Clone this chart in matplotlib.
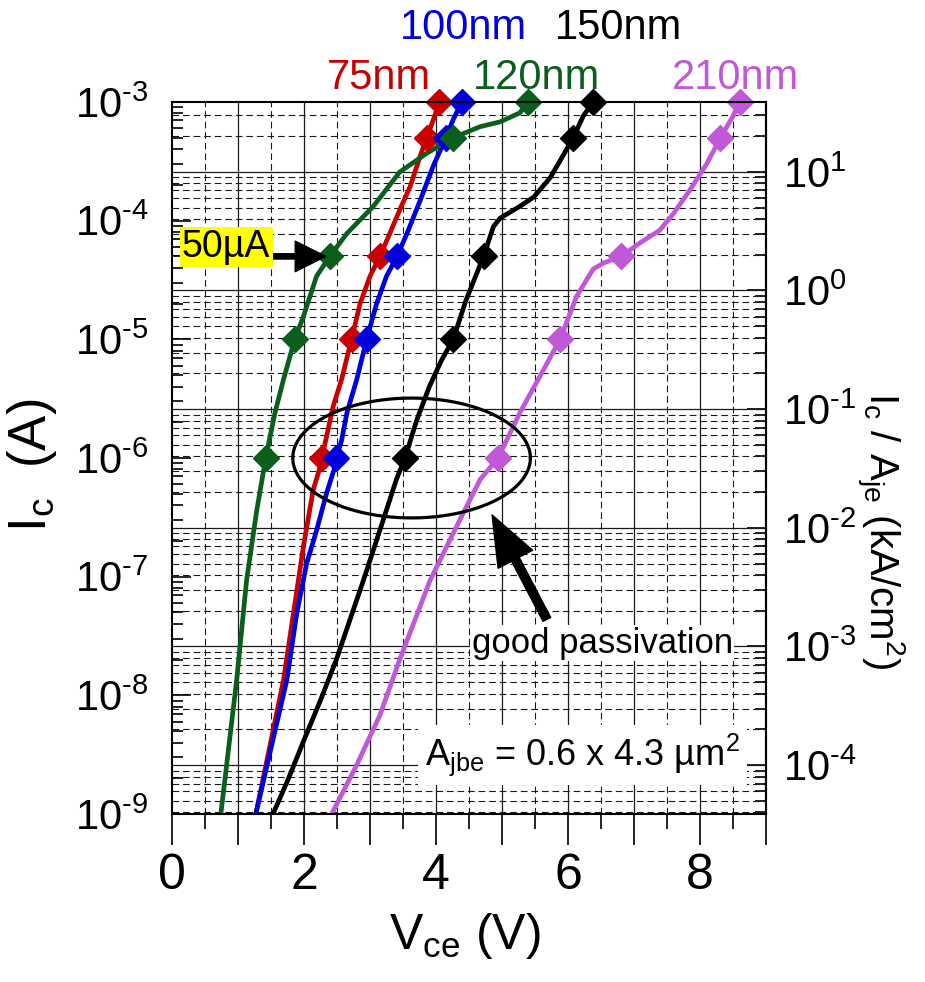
import numpy as np
import matplotlib
matplotlib.use('Agg')
import matplotlib.pyplot as plt
from matplotlib.ticker import FixedLocator, FuncFormatter, NullFormatter

plt.rcParams['font.family'] = ['Liberation Sans', 'DejaVu Sans']
plt.rcParams['mathtext.fontset'] = 'custom'
plt.rcParams['mathtext.rm'] = 'Liberation Sans'
plt.rcParams['mathtext.it'] = 'Liberation Sans:italic'
plt.rcParams['mathtext.bf'] = 'Liberation Sans:bold'
plt.rcParams['mathtext.default'] = 'regular'

# ---------------- data ----------------
labels = ['75nm', '100nm', '120nm', '150nm', '210nm']
colors = ['#c80000', '#0000dc', '#0a5f1c', '#000000', '#c058d8']

v75 = [1.27, 1.69, 1.84, 1.99, 2.14, 2.23, 2.27, 2.34, 2.44, 2.57, 2.72, 2.85, 3.00,
       3.15, 3.30, 3.45, 3.61, 3.76, 3.86, 3.96, 4.05]
i75 = [1e-9, 1.35e-8, 4.9e-8, 1.78e-7, 5.4e-7, 7.9e-7, 1e-6, 1.5e-6, 2.7e-6, 4.6e-6, 1e-5,
       2.0e-5, 3.4e-5, 5e-5, 7.8e-5, 1.23e-4, 1.95e-4, 3.5e-4, 5e-4, 7.1e-4, 1e-3]

v100 = [1.27, 1.74, 1.89, 2.04, 2.19, 2.34, 2.47, 2.49, 2.57, 2.65, 2.80, 2.95, 3.10,
        3.25, 3.41, 3.56, 3.76, 3.96, 4.15, 4.26, 4.39]
i100 = [1e-9, 1.35e-8, 4.9e-8, 1.29e-7, 2.45e-7, 5.0e-7, 8.5e-7, 1e-6, 1.41e-6, 2.4e-6,
        4.6e-6, 1e-5, 2.0e-5, 3.4e-5, 5e-5, 7.8e-5, 1.48e-4, 2.9e-4, 5e-4, 7.1e-4, 1e-3]

v120 = [0.74, 0.98, 1.13, 1.28, 1.42, 1.56, 1.69, 1.86, 1.99, 2.19, 2.39, 2.65, 3.05,
        3.45, 3.86, 4.26, 4.67, 4.97, 5.27, 5.39]
i120 = [1e-9, 1.35e-8, 9.3e-8, 3.5e-7, 1e-6, 2.4e-6, 4.6e-6, 1e-5, 1.55e-5, 3.4e-5, 5e-5,
        7.8e-5, 1.32e-4, 2.57e-4, 3.7e-4, 5e-4, 6.2e-4, 6.8e-4, 8.1e-4, 1e-3]

v150 = [1.53, 1.75, 2.00, 2.25, 2.49, 2.90, 3.20, 3.40, 3.53, 3.71, 3.90, 4.08, 4.26,
        4.45, 4.72, 4.87, 4.97, 5.27, 5.48, 5.73, 5.88, 6.08, 6.23, 6.38]
i150 = [1e-9, 1.9e-9, 4.2e-9, 9.1e-9, 2.0e-8, 9.3e-8, 3.0e-7, 6.6e-7, 1e-6, 2.1e-6, 4.0e-6,
        6.6e-6, 1e-5, 2.1e-5, 5e-5, 8.9e-5, 1.05e-4, 1.32e-4, 1.58e-4, 2.3e-4, 3.2e-4,
        5e-4, 7.6e-4, 1e-3]

v210 = [2.42, 2.80, 3.15, 3.45, 3.91, 4.36, 4.67, 4.94, 5.27, 5.52, 5.88, 6.13, 6.38, 6.54,
        6.81, 7.09, 7.39, 7.60, 7.85, 8.10, 8.31, 8.50, 8.60]
i210 = [1e-9, 2.6e-9, 6.8e-9, 2.0e-8, 9.3e-8, 3.0e-7, 6.6e-7, 1e-6, 2.4e-6, 4.3e-6, 1e-5,
        2.3e-5, 3.9e-5, 4.4e-5, 5e-5, 6.5e-5, 8.3e-5, 1.15e-4, 1.82e-4, 3.0e-4, 5e-4,
        7.6e-4, 1e-3]

# diamond markers at fixed collector currents
mark_i = [1e-6, 1e-5, 5e-5, 5e-4, 1e-3]
mark_v75 = [2.27, 2.72, 3.15, 3.86, 4.05]
mark_v100 = [2.49, 2.95, 3.41, 4.15, 4.39]
mark_v120 = [1.42, 1.86, 2.39, 4.26, 5.39]
mark_v150 = [3.53, 4.26, 4.72, 6.08, 6.38]
mark_v210 = [4.94, 5.88, 6.81, 8.31, 8.60]

curves_v = [v75, v100, v120, v150, v210]
curves_i = [i75, i100, i120, i150, i210]
marks_v = [mark_v75, mark_v100, mark_v120, mark_v150, mark_v210]

emitter_w_um = 0.6
emitter_l_um = 4.3
area_cm2 = emitter_w_um * emitter_l_um * 1e-8
to_kA_cm2 = 1.0 / area_cm2 / 1e3

xticks = list(range(0, 10))
yticks_left = [1e-9, 1e-8, 1e-7, 1e-6, 1e-5, 1e-4, 1e-3]
yticks_right_exp = [-4, -3, -2, -1, 0, 1]


def pow10_label(v, p):
    e = int(round(np.log10(v)))
    if e < 0:
        return r'10$^{\text{-%d}}$' % (-e)
    return r'10$^{%d}$' % e


# ---------------- figure ----------------
W, H = 925, 982
fig = plt.figure(figsize=(W / 100, H / 100), dpi=100)
L, R, T, B = 172, 766, 102, 814
ax = fig.add_axes([L / W, 1 - B / H, (R - L) / W, (B - T) / H])
ax.set_yscale('log')
ax.set_xlim(0, 9)
ax.set_ylim(1e-9, 1e-3)

dash = (0, (6, 3.5))
gcol = '#1a1a1a'
# grid: vertical
for xv in np.arange(1, 9):
    ax.axvline(xv, color=gcol, lw=0.9, zorder=1)
for xv in np.arange(0.5, 9, 1.0):
    ax.axvline(xv, color=gcol, lw=0.8, ls=dash, zorder=1)
# grid: horizontal, from the right (current density) axis
for n in range(-5, 3):
    J = 10.0 ** n
    I = J / to_kA_cm2
    if 1e-9 < I < 1e-3:
        ax.axhline(I, color=gcol, lw=0.9, zorder=1)
    for m in range(2, 10):
        Im = m * J / to_kA_cm2
        if 1e-9 < Im < 1e-3:
            ax.axhline(Im, color=gcol, lw=0.8, ls=dash, zorder=1)

for v, i, mv, c in zip(curves_v, curves_i, marks_v, colors):
    ax.plot(v, i, color=c, lw=3.4, zorder=3, solid_joinstyle='round')
    ax.plot(mv, mark_i, ls='none', marker='D', ms=13, color=c, mec=c, zorder=4,
            clip_on=False)

# ellipse "good passivation"
t = np.linspace(0, 2 * np.pi, 300)
ax.plot(3.63 + 1.80 * np.cos(t), 10 ** (-6.0 + 0.505 * np.sin(t)), color='black', lw=2.3,
        zorder=5)

# annotations
ax.annotate('', xy=(2.33, 5e-5), xytext=(1.50, 5e-5),
            arrowprops=dict(arrowstyle='simple,head_length=2.2,head_width=2.2,tail_width=0.38',
                            mutation_scale=10, fc='black', ec='black', shrinkA=0, shrinkB=0),
            zorder=6)
ax.text(0.82, 6.0e-5, '50µA', fontsize=27, ha='center', va='center', zorder=7,
        bbox=dict(facecolor='#ffff00', edgecolor='none', pad=1.5))

ax.annotate('', xy=(4.85, 10 ** -6.48), xytext=(5.68, 10 ** -7.36),
            arrowprops=dict(arrowstyle='simple,head_length=3.6,head_width=2.8,tail_width=0.62',
                            mutation_scale=10, fc='black', ec='black', shrinkA=0, shrinkB=0),
            zorder=6)
ax.text(6.52, 10 ** -7.56, 'good passivation', fontsize=25, ha='center', va='center', zorder=7,
        bbox=dict(facecolor='white', edgecolor='none', pad=1))

ax.text(6.22, 10 ** -8.50, r'A$_{jbe}$ = 0.6 x 4.3 µm$^{2}$', fontsize=26, ha='center',
        va='center', zorder=7, bbox=dict(facecolor='white', edgecolor='none', pad=5))

# ticks
ax.xaxis.set_major_locator(FixedLocator(xticks))
ax.xaxis.set_minor_locator(FixedLocator(list(np.arange(0.5, 9, 1.0))))
ax.xaxis.set_major_formatter(FuncFormatter(
    lambda v, p: f'{int(round(v))}' if int(round(v)) % 2 == 0 and v < 8.5 else ''))
ax.tick_params(axis='x', which='major', direction='out', length=22, width=1.2, labelsize=36, pad=6)
ax.tick_params(axis='x', which='minor', direction='out', length=11, width=1.2)

ax.yaxis.set_major_locator(FixedLocator(yticks_left))
ax.yaxis.set_minor_locator(FixedLocator([m * 10.0 ** n for n in range(-9, -3) for m in range(2, 10)]))
ax.yaxis.set_major_formatter(FuncFormatter(pow10_label))
ax.yaxis.set_minor_formatter(NullFormatter())
ax.tick_params(axis='y', which='major', direction='in', length=14, width=1.2, labelsize=30, pad=17)
ax.tick_params(axis='y', which='minor', direction='in', length=8, width=1.2)

for s in ax.spines.values():
    s.set_linewidth(1.5)
    s.set_zorder(6)

sec = ax.secondary_yaxis('right', functions=(lambda I: I * to_kA_cm2, lambda J: J / to_kA_cm2))
sec.yaxis.set_major_locator(FixedLocator([10.0 ** e for e in yticks_right_exp]))
sec.yaxis.set_minor_locator(FixedLocator([m * 10.0 ** n for n in range(-5, 2) for m in range(2, 10)]))
sec.yaxis.set_major_formatter(FuncFormatter(pow10_label))
sec.yaxis.set_minor_formatter(NullFormatter())
sec.tick_params(axis='y', which='major', direction='in', length=14, width=1.2, labelsize=30, pad=12)
sec.tick_params(axis='y', which='minor', direction='in', length=8, width=1.2)
sec.spines['right'].set_linewidth(1.5)

# axis labels
fig.text(465 / W, 1 - 936 / H, r'V$_{ce}$ (V)', fontsize=36, ha='center', va='center')
fig.text(32 / W, 1 - 465 / H, r'I$_{c}$  (A)', fontsize=38, ha='center', va='center', rotation=90)
fig.text(880 / W, 1 - 530 / H, r'I$_{c}$ / A$_{je}$ (kA/cm$^{2}$)', fontsize=29, ha='center',
         va='center', rotation=270)

# curve labels
top_labels_xy = [(379, 78), (463, 28), (537, 78), (618, 28), (735, 78)]
for lab, c, (px, py) in zip(labels, colors, top_labels_xy):
    fig.text(px / W, 1 - py / H, lab, fontsize=30, color=c, ha='center', va='center')

fig.savefig('out.png', dpi=100)
